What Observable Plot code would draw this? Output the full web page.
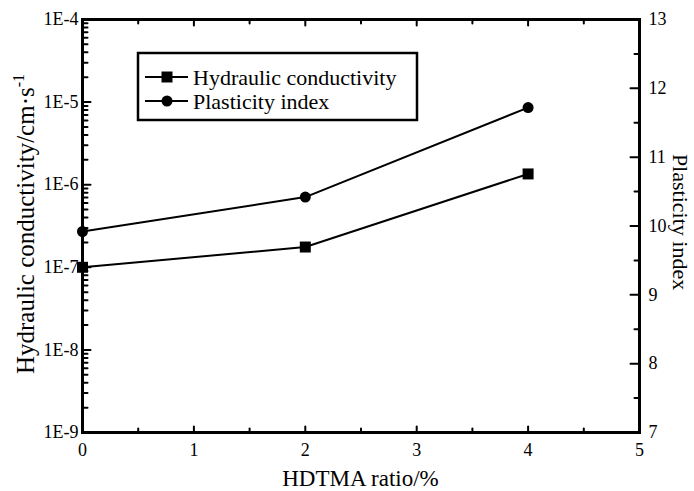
<!DOCTYPE html>
<html><head><meta charset="utf-8">
<script src="https://cdn.jsdelivr.net/npm/d3@7"></script>
<script src="https://cdn.jsdelivr.net/npm/@observablehq/plot@0.6"></script>
<style>body{margin:0;background:#fff} #chart{width:694px;height:491px}</style>
</head><body><div id="chart"></div>
<script>
// ---- data ----
const hdtmaRatio = [0, 2, 4];
const hydraulicConductivity = [1.0e-7, 1.76e-7, 1.35e-6];
const plasticityIndex = [9.92, 10.42, 11.72];
const seriesNames = ["Hydraulic conductivity", "Plasticity index"];
const xTicks = [0, 1, 2, 3, 4, 5];
const xMinorTicks = [0.5, 1.5, 2.5, 3.5, 4.5];
const leftTicks = [1e-9, 1e-8, 1e-7, 1e-6, 1e-5, 1e-4];
const leftTickLabels = ["1E-9", "1E-8", "1E-7", "1E-6", "1E-5", "1E-4"];
const rightTicks = [7, 8, 9, 10, 11, 12, 13];
const rightMinorTicks = [7.5, 8.5, 9.5, 10.5, 11.5, 12.5];
const xTitle = "HDTMA ratio/%";
const leftTitle = "Hydraulic conductivity/cm·s";
const leftTitleSup = "-1";
const rightTitle = "Plasticity index";

// ---- scales ----
const yDomain = [1e-9, 1e-4];
const piDomain = [7, 13];
const lo = Math.log10(yDomain[0]), hi = Math.log10(yDomain[1]);
const piToY = p => Math.pow(10, lo + (p - piDomain[0]) / (piDomain[1] - piDomain[0]) * (hi - lo));

const leftMinor = [];
for (let e = lo; e < hi; e++) for (let k = 2; k <= 9; k++) leftMinor.push(k * Math.pow(10, e));

const hc = hdtmaRatio.map((x, i) => ({x, y: hydraulicConductivity[i]}));
const pi = hdtmaRatio.map((x, i) => ({x, y: piToY(plasticityIndex[i])}));
const leftLab = leftTicks.map((y, i) => ({y, t: leftTickLabels[i]}));
const rightLab = rightTicks.map(p => ({y: piToY(p), t: String(p)}));

const font = "'Liberation Serif', 'Times New Roman', serif";
const W = 694, H = 491;
const mL = 82, mR = 55, mT = 19, mB = 59;

// straight tick shape for Plot.vector
const tickShape = {draw(context, l) { context.moveTo(0, 0); context.lineTo(0, -l); }};
const tk = (data, opts) => Plot.vector(data, {shape: tickShape, anchor: "start", stroke: "#000", strokeWidth: 2, ...opts});

const plot = Plot.plot({
  width: W, height: H,
  marginLeft: mL, marginRight: mR, marginTop: mT, marginBottom: mB,
  style: {fontFamily: font, fontSize: "18px", color: "#000", background: "#fff"},
  x: {domain: [0, 5], axis: null},
  y: {type: "log", domain: yDomain, axis: null},
  marks: [
    // tick marks (inward)
    tk(xTicks, {x: d => d, frameAnchor: "bottom", rotate: 0, length: 6}),
    tk(xMinorTicks, {x: d => d, frameAnchor: "bottom", rotate: 0, length: 4}),
    tk(xTicks, {x: d => d, frameAnchor: "top", rotate: 180, length: 6}),
    tk(xMinorTicks, {x: d => d, frameAnchor: "top", rotate: 180, length: 4}),
    tk(leftTicks, {y: d => d, frameAnchor: "left", rotate: 90, length: 8}),
    tk(leftMinor, {y: d => d, frameAnchor: "left", rotate: 90, length: 5}),
    tk(rightTicks, {y: piToY, frameAnchor: "right", rotate: -90, length: 9}),
    tk(rightMinorTicks, {y: piToY, frameAnchor: "right", rotate: -90, length: 5}),
    // tick labels
    Plot.text(xTicks, {x: d => d, text: d => String(d), frameAnchor: "bottom", lineAnchor: "top", dy: 11, fill: "#000"}),
    Plot.text(leftLab, {y: "y", text: "t", frameAnchor: "left", textAnchor: "end", dx: -4, fill: "#000"}),
    Plot.text(rightLab, {y: "y", text: "t", frameAnchor: "right", textAnchor: "start", dx: 9, fill: "#000"}),
    Plot.frame({stroke: "#000", strokeWidth: 3}),
    // series
    Plot.line(hc, {x: "x", y: "y", stroke: "#000", strokeWidth: 2}),
    Plot.dot(hc, {x: "x", y: "y", symbol: "square", r: 6.2, fill: "#000"}),
    Plot.line(pi, {x: "x", y: "y", stroke: "#000", strokeWidth: 2}),
    Plot.dot(pi, {x: "x", y: "y", symbol: "circle", r: 5.5, fill: "#000"})
  ]
});

const svg = d3.select(plot);
// axis titles
svg.append("text").attr("x", (mL + W - mR) / 2).attr("y", 486)
  .attr("text-anchor", "middle").attr("font-family", font).attr("font-size", 23)
  .attr("fill", "#000").text(xTitle);
const lt = svg.append("text").attr("transform", "translate(34,224) rotate(-90)")
  .attr("text-anchor", "middle")
  .attr("font-family", font).attr("font-size", 25).attr("fill", "#000");
lt.append("tspan").text(leftTitle);
lt.append("tspan").attr("dy", -10).attr("font-size", 16).text(leftTitleSup);
svg.append("text").attr("transform", "translate(673,222) rotate(90)")
  .attr("text-anchor", "middle")
  .attr("font-family", font).attr("font-size", 22).attr("fill", "#000").text(rightTitle);

// legend
const lg = svg.append("g").attr("transform", "translate(138,53)");
lg.append("rect").attr("width", 279).attr("height", 67).attr("fill", "#fff").attr("stroke", "#000").attr("stroke-width", 2.5);
const symbols = [d3.symbolSquare, d3.symbolCircle];
const sizes = [6.2, 5.5];
seriesNames.forEach((name, i) => {
  const yy = 24 + i * 24;
  lg.append("line").attr("x1", 7).attr("x2", 50).attr("y1", yy).attr("y2", yy).attr("stroke", "#000").attr("stroke-width", 2);
  lg.append("path").attr("transform", `translate(29,${yy})`)
    .attr("d", d3.symbol(symbols[i], Math.PI * sizes[i] * sizes[i])()).attr("fill", "#000");
  lg.append("text").attr("x", 55).attr("y", yy).attr("dy", "0.35em").attr("text-anchor", "start")
    .attr("font-family", font).attr("font-size", 22).attr("fill", "#000").text(name);
});

document.getElementById("chart").appendChild(plot);
</script>
</body></html>
